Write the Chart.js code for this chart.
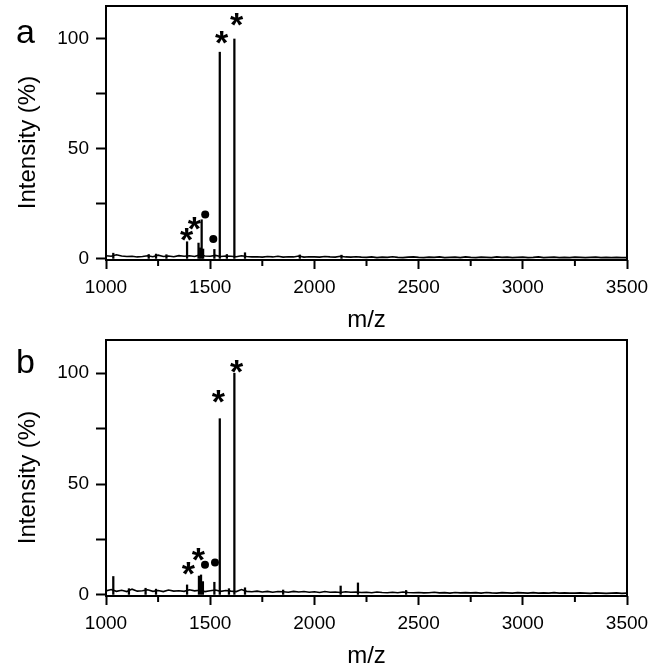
<!DOCTYPE html>
<html>
<head>
<meta charset="utf-8">
<script src="https://cdn.jsdelivr.net/npm/chart.js@4.4.1/dist/chart.umd.min.js"></script>
<style>
  body { margin: 0; background: #fff; }
  .panel { position: relative; width: 652px; }
</style>
</head>
<body>
<div class="panel" style="height:335px"><canvas id="chartA" width="652" height="335"></canvas></div>
<div class="panel" style="height:336px"><canvas id="chartB" width="652" height="336"></canvas></div>
<script>
// baseline noise, sampled every 25 m/z
const noiseMz = [
  1000, 1025, 1050, 1075, 1100, 1125, 1150, 1175, 1200, 1225,
  1250, 1275, 1300, 1325, 1350, 1375, 1400, 1425, 1450, 1475,
  1500, 1525, 1550, 1575, 1600, 1625, 1650, 1675, 1700, 1725,
  1750, 1775, 1800, 1825, 1850, 1875, 1900, 1925, 1950, 1975,
  2000, 2025, 2050, 2075, 2100, 2125, 2150, 2175, 2200, 2225,
  2250, 2275, 2300, 2325, 2350, 2375, 2400, 2425, 2450, 2475,
  2500, 2525, 2550, 2575, 2600, 2625, 2650, 2675, 2700, 2725,
  2750, 2775, 2800, 2825, 2850, 2875, 2900, 2925, 2950, 2975,
  3000, 3025, 3050, 3075, 3100, 3125, 3150, 3175, 3200, 3225,
  3250, 3275, 3300, 3325, 3350, 3375, 3400, 3425, 3450, 3475,
  3500
];
const noiseA = [
  1.4, 1.2, 1.9, 1.3, 1.1, 1.2, 0.9, 1.1, 1.4, 1.0,
  1.7, 1.1, 1.3, 1.0, 1.5, 1.2, 1.4, 1.1, 1.8, 1.3,
  1.2, 1.6, 1.1, 1.3, 1.2, 1.0, 1.4, 1.1, 0.9, 1.0,
  0.8, 1.1, 0.9, 1.2, 0.8, 1.0, 0.9, 1.3, 0.8, 1.0,
  0.9, 0.8, 1.1, 0.9, 0.8, 1.2, 0.9, 0.8, 1.0, 0.8,
  0.7, 0.9, 0.6, 0.8, 0.7, 1.0, 0.7, 0.6, 0.8, 0.9,
  0.7, 0.6, 0.8, 0.7, 0.9, 0.6, 0.7, 0.8, 0.6, 0.9,
  0.7, 0.6, 0.8, 0.7, 0.6, 0.9, 0.7, 0.8, 0.6, 0.7,
  0.8, 0.6, 0.7, 0.9, 0.6, 0.7, 0.8, 0.6, 0.7, 0.6,
  0.8, 0.7, 0.6, 0.7, 0.8, 0.6, 0.7, 0.6, 0.7, 0.6,
  0.6
];
const noiseB = [
  1.8, 2.4, 1.6, 2.1, 1.5, 2.6, 1.7, 1.9, 2.3, 1.6,
  2.0, 1.5, 2.2, 1.7, 1.9, 1.6, 2.3, 1.8, 2.1, 1.5,
  1.9, 2.2, 1.6, 2.0, 1.7, 1.5, 2.4, 1.6, 1.4, 1.7,
  1.3, 1.6, 1.2, 1.5, 1.4, 1.2, 1.6, 1.3, 1.5, 1.2,
  1.4, 1.1, 1.5, 1.2, 1.3, 1.1, 1.4, 1.2, 1.3, 1.1,
  1.2, 1.0, 1.3, 1.1, 1.0, 1.2, 1.0, 1.3, 1.1, 1.0,
  1.1, 0.9, 1.0, 1.2, 0.9, 1.0, 0.8, 1.1, 0.9, 1.0,
  0.9, 1.0, 0.8, 1.1, 0.9, 0.8, 1.0, 0.9, 0.8, 1.0,
  0.9, 0.8, 1.0, 0.8, 0.9, 0.8, 1.0, 0.8, 0.9, 0.8,
  0.8, 0.9, 0.8, 0.7, 0.9, 0.8, 0.7, 0.8, 0.9, 0.7,
  0.8
];

// peaks (m/z, intensity %)
const peakMzA  = [1035, 1205, 1240, 1290, 1389, 1444, 1452, 1459, 1466, 1520, 1546, 1580, 1616, 1667, 1930, 2130];
const peakIntA = [2.6, 2.0, 2.2, 1.9, 7.8, 7.2, 5.0, 17.8, 4.5, 4.3, 94.0, 2.0, 100, 2.8, 1.8, 1.7];
const peakMzB  = [1035, 1110, 1190, 1240, 1389, 1446, 1456, 1465, 1520, 1546, 1590, 1616, 1667, 1850, 2126, 2209, 2440];
const peakIntB = [8.3, 2.8, 3.0, 2.6, 4.5, 8.5, 9.0, 6.0, 5.7, 79.5, 2.8, 100, 3.2, 2.2, 4.0, 5.4, 2.0];

// peak markers
const starMzA = [1387, 1424, 1555, 1627];
const starYA  = [12.5, 17.8, 102.4, 110.3];
const dotMzA  = [1476, 1515];
const dotYA   = [20.2, 9.0];
const starMzB = [1395, 1443, 1539, 1627];
const starYB  = [13.6, 20.0, 91.3, 104.8];
const dotMzB  = [1475, 1523];
const dotYB   = [13.6, 14.6];

const xTicks = [1000, 1500, 2000, 2500, 3000, 3500];
const yTicks = [0, 50, 100];

const FONT = '"Liberation Sans", Arial, sans-serif';

const decor = {
  id: 'decor',
  afterDraw(chart, args, opts) {
    const { ctx, chartArea: a, scales: { x, y } } = chart;
    ctx.save();
    // frame
    ctx.strokeStyle = '#000';
    ctx.lineWidth = 2;
    ctx.strokeRect(a.left, a.top, a.right - a.left, a.bottom - a.top);
    // minor x ticks
    for (let v = 1250; v < 3500; v += 500) {
      const px = x.getPixelForValue(v);
      ctx.beginPath();
      ctx.moveTo(px, a.bottom);
      ctx.lineTo(px, a.bottom + 6);
      ctx.stroke();
    }
    // asterisks
    ctx.fillStyle = '#000';
    ctx.font = 'bold 34px ' + FONT;
    ctx.textAlign = 'center';
    ctx.textBaseline = 'alphabetic';
    opts.starMz.forEach((m, i) => {
      ctx.fillText('*', x.getPixelForValue(m), y.getPixelForValue(opts.starY[i]) + 20);
    });
    // panel letter
    ctx.font = '34px ' + FONT;
    ctx.textAlign = 'left';
    ctx.fillText(opts.letter, 16, opts.letterY);
    // y title
    ctx.font = '24px ' + FONT;
    ctx.textAlign = 'center';
    ctx.translate(35, 142.5);
    ctx.rotate(-Math.PI / 2);
    ctx.fillText('Intensity (%)', 0, 0);
    ctx.restore();
  }
};

function makeChart(id, noise, peakMz, peakInt, dotMz, dotY, starMz, starY, letter, letterY, top) {
  const noisePts = noiseMz.map((m, i) => ({ x: m, y: noise[i] }));
  const peakPts = peakMz.map((m, i) => ({ x: m, y: peakInt[i] }));
  const dotPts = dotMz.map((m, i) => ({ x: m, y: dotY[i] }));
  const canvas = document.getElementById(id);
  return new Chart(canvas.getContext('2d'), {
    type: 'bar',
    data: {
      datasets: [
        {
          type: 'line',
          data: noisePts,
          borderColor: '#000',
          borderWidth: 1.6,
          pointRadius: 0,
          tension: 0
        },
        {
          type: 'bar',
          data: peakPts,
          backgroundColor: '#000',
          borderWidth: 0,
          barThickness: 1.6
        },
        {
          type: 'scatter',
          data: dotPts,
          pointStyle: 'circle',
          pointRadius: 4,
          backgroundColor: '#000',
          borderColor: '#000',
          borderWidth: 0
        }
      ]
    },
    options: {
      responsive: false,
      animation: false,
      layout: { padding: { top: top, right: 25, left: 0, bottom: 0 } },
      plugins: {
        legend: { display: false },
        tooltip: { enabled: false },
        decor: { starMz, starY, letter, letterY }
      },
      scales: {
        x: {
          type: 'linear',
          offset: false,
          min: 1000,
          max: 3500,
          afterFit: s => { s.height = 75; s.paddingLeft = 0; s.paddingRight = 0; },
          afterBuildTicks: s => { s.ticks = xTicks.map(v => ({ value: v })); },
          border: { display: false },
          grid: { offset: false, drawOnChartArea: false, drawTicks: true, tickLength: 9, tickColor: '#000', tickWidth: 2 },
          ticks: {
            color: '#000',
            font: { family: FONT, size: 19 },
            padding: 7,
            maxRotation: 0,
            autoSkip: false,
            callback: v => String(v)
          },
          title: { display: true, text: 'm/z', color: '#000', font: { family: FONT, size: 24 }, padding: { top: 0, bottom: 0.5 } }
        },
        y: {
          type: 'linear',
          min: -0.5,
          max: 115,
          afterFit: s => { s.width = 106; s.paddingTop = 0; s.paddingBottom = 0; },
          afterBuildTicks: s => { s.ticks = [0, 25, 50, 75, 100].map(v => ({ value: v })); },
          border: { display: false },
          grid: { drawOnChartArea: false, drawTicks: true, tickLength: 10, tickColor: '#000', tickWidth: 2 },
          ticks: {
            color: '#000',
            font: { family: FONT, size: 19 },
            padding: 7,
            autoSkip: false,
            callback: v => (yTicks.includes(v) ? String(v) : '')
          }
        }
      }
    },
    plugins: [decor]
  });
}

makeChart('chartA', noiseA, peakMzA, peakIntA, dotMzA, dotYA, starMzA, starYA, 'a', 43, 6);
makeChart('chartB', noiseB, peakMzB, peakIntB, dotMzB, dotYB, starMzB, starYB, 'b', 38, 5);
</script>
</body>
</html>
